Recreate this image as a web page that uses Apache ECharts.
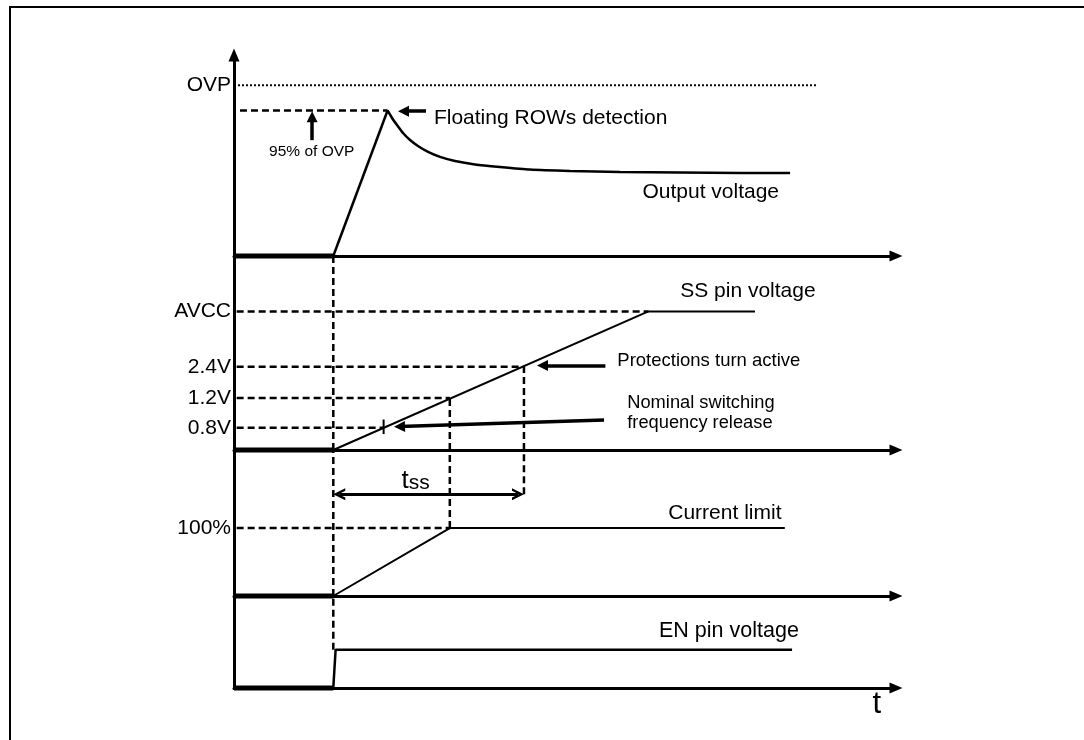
<!DOCTYPE html>
<html>
<head>
<meta charset="utf-8">
<script src="https://cdn.jsdelivr.net/npm/echarts@6/dist/echarts.min.js"></script>
<style>
html,body{margin:0;padding:0;background:#fff;}
#c{width:1084px;height:740px;}
</style>
</head>
<body>
<div id="c"></div>
<script>
// ---------------- DATA (time axis 0..100, each panel in its own relative level units) ----------------
const tEnable = 15;                       // enable instant
// Panel 1 : output voltage
const ovpTickLabels = ['OVP'];
const ovpTickLevels = [1.0];
const ovp95Level = 0.852;
const outputRamp = [[15, 0], [23.2, 0.852]];
const outputDecay = [[23.2, 0.852], [23.87, 0.808], [24.62, 0.767], [25.53, 0.720], [26.59, 0.679],
                     [27.79, 0.644], [29.31, 0.609], [31.12, 0.580], [33.38, 0.556], [36.40, 0.536],
                     [40.18, 0.521], [44.71, 0.506], [50.76, 0.498], [58.31, 0.492], [67.37, 0.489],
                     [76.44, 0.486], [84.0, 0.486]];
const ovpLineSpan = [0.6, 88.2];
// Panel 2 : SS pin voltage
const ssTickLabels = ['0.8V', '1.2V', '2.4V', 'AVCC'];
const ssTickLevels = [0.16, 0.375, 0.60, 1.0];
const ssCrossT = [22.6, 32.6, 43.8, 62.6];
const ssWave = [[15, 0], [62.6, 1], [78.7, 1]];
// Panel 3 : current limit
const currentTickLabels = ['100%'];
const currentTickLevels = [1.0];
const currentWave = [[15, 0], [32.6, 1], [83.2, 1]];
const tssSpan = [15, 43.8];
const tssLevel = 1.5;
// Panel 4 : EN pin voltage
const enWave = [[15, 0], [15.35, 1], [84.3, 1]];

// ---------------- STYLE / LAYOUT ----------------
const FONT = "'Liberation Sans', Arial, Helvetica, sans-serif";
const BLACK = '#000000';
const panelMax = [1, 1.2, 1.4, 2.15, 2.4];
const grids = [
  {left: 234, top: 55, width: 662, height: 633},   // shared vertical axis
  {left: 234, top: 51, width: 662, height: 205},   // output voltage
  {left: 234, top: 256, width: 662, height: 194},  // SS pin
  {left: 234, top: 450, width: 662, height: 146},  // current limit
  {left: 234, top: 596, width: 662, height: 92}    // EN pin
];
const DASH = [7, 4];

function nearestLabel(levels, labels) {
  return function (v) {
    let b = 0;
    levels.forEach(function (l, i) { if (Math.abs(l - v) < Math.abs(levels[b] - v)) b = i; });
    return labels[b];
  };
}

const xAxes = grids.map(function (g, i) {
  return {
    type: 'value', gridIndex: i, min: 0, max: 100, show: i !== 0,
    axisLine: {show: true, onZero: false, symbol: ['none', 'triangle'], symbolSize: [11, 13],
      lineStyle: {color: BLACK, width: 3}},
    axisTick: {show: false}, axisLabel: {show: false}, splitLine: {show: false}
  };
});

const tickSets = [null, [ovpTickLevels, ovpTickLabels], [ssTickLevels, ssTickLabels],
                  [currentTickLevels, currentTickLabels], null];
const yAxes = grids.map(function (g, i) {
  const ax = {
    type: 'value', gridIndex: i, min: 0, max: panelMax[i],
    axisLine: {show: i === 0, symbol: ['none', 'triangle'], symbolSize: [11, 13],
      lineStyle: {color: BLACK, width: 3}},
    axisTick: {show: false}, splitLine: {show: false},
    axisLabel: {show: false}
  };
  if (tickSets[i]) {
    ax.axisLabel = {
      show: true, customValues: tickSets[i][0], margin: 3,
      formatter: nearestLabel(tickSets[i][0], tickSets[i][1]),
      color: BLACK, fontSize: 21, fontFamily: FONT
    };
  }
  return ax;
});

const series = [];
function line(gi, data, width, dash, extra) {
  const s = {
    type: 'line', xAxisIndex: gi, yAxisIndex: gi, data: data, symbol: 'none', silent: true,
    clip: false, animation: false, z: 3,
    lineStyle: {color: BLACK, width: width, type: dash || 'solid'}
  };
  if (extra) Object.assign(s, extra);
  series.push(s);
  return s;
}
function arrows(host, segs, symbol, size, width) {
  host.markLine = {
    silent: true, animation: false, symbol: symbol, symbolSize: size, precision: 4,
    label: {show: false}, emphasis: {disabled: true},
    itemStyle: {color: BLACK},
    lineStyle: {color: BLACK, width: width, type: 'solid'},
    data: segs.map(function (s) { return [{coord: s[0]}, {coord: s[1]}]; })
  };
}
function labels(gi, items) {
  series.push({
    type: 'scatter', xAxisIndex: gi, yAxisIndex: gi, silent: true, clip: false, animation: false,
    symbol: 'circle', symbolSize: 0.01, itemStyle: {color: BLACK, opacity: 1}, z: 5,
    emphasis: {disabled: true},
    label: {show: true, position: 'right', distance: 0, color: BLACK, opacity: 1,
      fontFamily: FONT, fontSize: 21},
    data: items.map(function (d) {
      d.label = Object.assign({color: BLACK, textBorderWidth: 0}, d.label);
      return d;
    })
  });
}
const offSeg = [[0, 0], [tEnable, 0]];

// ---- Panel 1: output voltage ----
const off1 = line(1, offSeg, 5);
line(1, outputRamp, 2.5);
line(1, outputDecay, 2.5, null, {smooth: 0.15});
line(1, [[ovpLineSpan[0], ovpTickLevels[0]], [ovpLineSpan[1], ovpTickLevels[0]]], 2, [2, 2]);
line(1, [[0.9, ovp95Level], [outputRamp[1][0], ovp95Level]], 2.5, DASH);
arrows(off1, [
  [[29.0, 0.848], [25.6, 0.848]],
  [[11.8, 0.678], [11.8, 0.815]]
], ['none', 'triangle'], 11, 3.5);
labels(1, [
  {value: [30.2, 0.807], label: {formatter: 'Floating ROWs detection'}},
  {value: [5.3, 0.608], label: {formatter: '95% of OVP', fontSize: 15.5}},
  {value: [61.7, 0.374], label: {formatter: 'Output voltage'}}
]);

// ---- Panel 2: SS pin voltage ----
const off2 = line(2, offSeg, 5);
line(2, ssWave, 2);
ssTickLevels.forEach(function (lv, i) {
  line(2, [[0.4, lv], [ssCrossT[i], lv]], 2.5, DASH);
});
line(2, [[tEnable, 0], [tEnable, panelMax[2]]], 2.5, DASH);
line(2, [[ssCrossT[1], 0], [ssCrossT[1], ssTickLevels[1]]], 2.5, DASH);
line(2, [[ssCrossT[2], 0], [ssCrossT[2], ssTickLevels[2]]], 2.5, DASH);
line(2, [[ssCrossT[0], 0.115], [ssCrossT[0], 0.22]], 2);
arrows(off2, [
  [[56.1, 0.61], [46.6, 0.61]],
  [[55.9, 0.217], [25.0, 0.169]]
], ['none', 'triangle'], 11, 3.5);
labels(2, [
  {value: [67.4, 1.147], label: {formatter: 'SS pin voltage'}},
  {value: [57.9, 0.642], label: {formatter: 'Protections turn active', fontSize: 18.5}},
  {value: [59.4, 0.267], label: {formatter: 'Nominal switching\nfrequency release', fontSize: 18.3, lineHeight: 20, align: 'left'}}
]);

// ---- Panel 3: current limit ----
const off3 = line(3, offSeg, 5);
line(3, currentWave, 2);
line(3, [[0.4, currentTickLevels[0]], [currentWave[1][0], currentTickLevels[0]]], 2.5, DASH);
line(3, [[tEnable, 0], [tEnable, panelMax[3]]], 2.5, DASH);
line(3, [[ssCrossT[1], currentTickLevels[0]], [ssCrossT[1], panelMax[3]]], 2.5, DASH);
line(3, [[ssCrossT[2], tssLevel], [ssCrossT[2], panelMax[3]]], 2.5, DASH);
const chevron = 'path://M0,10 L5,0 L10,10 L7.8,10 L5,4.4 L2.2,10 Z';
arrows(off3, [[[tssSpan[0] + 0.9, tssLevel], [tssSpan[1] - 0.9, tssLevel]]], [chevron, chevron], 12, 3);
labels(3, [
  {value: [65.6, 1.22], label: {formatter: 'Current limit'}},
  {value: [25.3, 1.69], label: {formatter: '{a|t}{b|ss}', rich: {
    a: {fontSize: 26, fontFamily: FONT, color: BLACK},
    b: {fontSize: 21, fontFamily: FONT, color: BLACK, padding: [4, 0, 0, 0]}
  }}}
]);

// ---- Panel 4: EN pin voltage ----
line(4, offSeg, 5);
line(4, enWave, 2.5);
line(4, [[tEnable, enWave[1][1]], [tEnable, panelMax[4]]], 2.5, DASH);
labels(4, [
  {value: [64.2, 1.487], label: {formatter: 'EN pin voltage', fontSize: 21.5}},
  {value: [97.1, -0.44], label: {formatter: 't', position: 'inside', fontSize: 31}}
]);

const chart = echarts.init(document.getElementById('c'), null, {renderer: 'canvas'});
chart.setOption({
  backgroundColor: '#fff',
  animation: false,
  textStyle: {fontFamily: FONT, color: BLACK},
  grid: grids,
  xAxis: xAxes,
  yAxis: yAxes,
  series: series,
  graphic: [{
    type: 'polyline', silent: true,
    shape: {points: [[10, 740], [10, 7], [1084, 7]]},
    style: {stroke: BLACK, lineWidth: 2, fill: null}
  }]
});
</script>
</body>
</html>
